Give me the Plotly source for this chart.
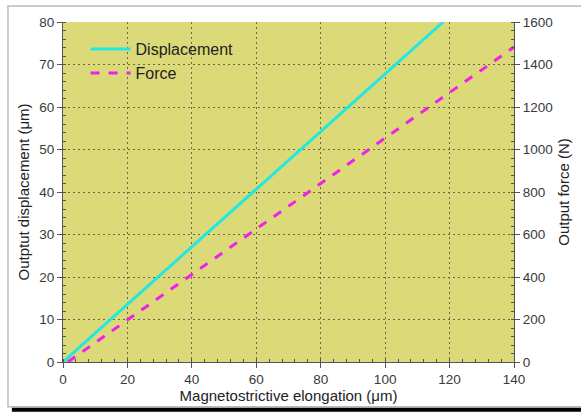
import plotly.graph_objects as go

# Data
elong_disp = [0, 20, 40, 60, 80, 100, 118]
displacement = [0, 13.6, 27.1, 40.7, 54.2, 67.8, 80]
elong_force = [1.5, 20, 40, 60, 80, 100, 120, 140]
force = [0, 198, 412, 626, 840, 1054, 1268, 1482]

font = "Liberation Sans, Arial, sans-serif"
axcol = "#555555"
gridcol = "#6a6a48"

fig = go.Figure()
fig.add_trace(go.Scatter(x=elong_disp, y=displacement, mode="lines", name="Displacement",
                         line=dict(color="#22e8e0", width=3)))
fig.add_trace(go.Scatter(x=elong_force, y=force, mode="lines", name="Force", yaxis="y2",
                         line=dict(color="#f020e8", width=3, dash="dash")))

fig.update_layout(
    width=581, height=412,
    margin=dict(l=63, r=59, t=22, b=49),
    paper_bgcolor="white",
    plot_bgcolor="#dcda78",
    font=dict(family=font, size=13.5, color="#3a3a3a"),
    showlegend=True,
    legend=dict(x=0.05, y=0.97, xanchor="left", yanchor="top", bgcolor="rgba(0,0,0,0)",
                font=dict(size=16, color="#222222"), itemwidth=40, tracegroupgap=0),
    xaxis=dict(range=[0, 140], dtick=20, tick0=0, showline=True, linecolor=axcol, linewidth=1,
               ticks="outside", ticklen=5, tickcolor=axcol, zeroline=False,
               showgrid=True, gridcolor=gridcol, griddash="2px,3px", gridwidth=1.2,
               minor=dict(dtick=4, ticks="inside", ticklen=3, tickcolor=axcol, showgrid=False),
               title=dict(text="Magnetostrictive elongation (μm)", standoff=2, font=dict(size=15, color="#222222"))),
    yaxis=dict(range=[0, 80], dtick=10, tick0=0, showline=True, linecolor=axcol, linewidth=1,
               ticks="outside", ticklen=5, tickcolor=axcol, zeroline=False,
               showgrid=True, gridcolor=gridcol, griddash="2px,3px", gridwidth=1.2,
               minor=dict(dtick=2, ticks="inside", ticklen=3, tickcolor=axcol, showgrid=False),
               title=dict(text="Outptut displacement (μm)", standoff=6, font=dict(size=15, color="#222222"))),
    yaxis2=dict(range=[0, 1600], dtick=200, tick0=0, overlaying="y", side="right",
                showline=True, linecolor=axcol, linewidth=1,
                ticks="outside", ticklen=5, tickcolor=axcol, zeroline=False, showgrid=False,
                minor=dict(dtick=40, ticks="inside", ticklen=3, tickcolor=axcol),
                title=dict(text="Output force (N)", standoff=6, font=dict(size=15, color="#222222"))),
    shapes=[
        dict(type="rect", xref="paper", yref="paper", x0=-56/459, x1=1 + 80/459,
             y0=-(408-363)/341.5, y1=1 + (22-6)/341.5, line=dict(color="#bbbbbb", width=1.5),
             fillcolor="rgba(0,0,0,0)", layer="below"),
        dict(type="rect", xref="paper", yref="paper", x0=-52/459, x1=1 + 80/459,
             y0=-(413-363)/341.5, y1=-(409-363)/341.5, line=dict(width=0),
             fillcolor="black", layer="above"),
    ],
)

fig.write_html("out.html")
